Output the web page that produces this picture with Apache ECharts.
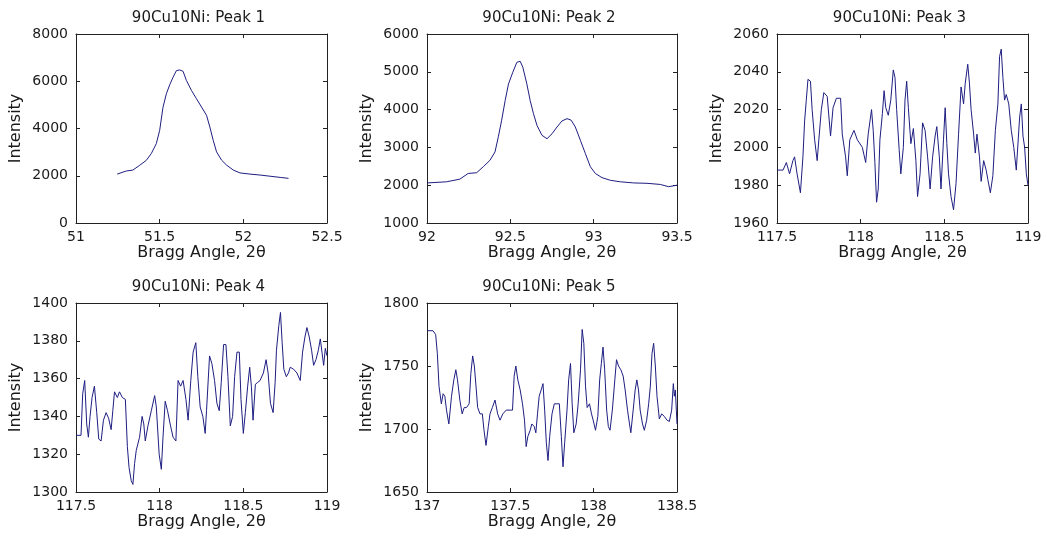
<!DOCTYPE html>
<html>
<head>
<meta charset="utf-8">
<script src="https://cdn.jsdelivr.net/npm/echarts@6/dist/echarts.min.js"></script>
<style>
html,body{margin:0;padding:0;background:#fff;}
#chart{width:1047px;height:543px;}
</style>
</head>
<body>
<div id="chart"></div>
<script>
// ---- Data ----
const titles = ['90Cu10Ni: Peak 1','90Cu10Ni: Peak 2','90Cu10Ni: Peak 3','90Cu10Ni: Peak 4','90Cu10Ni: Peak 5'];
const xLabel = 'Bragg Angle, 2\u03b8';
const yLabel = 'Intensity';

const peak1X = [51.246,51.30,51.34,51.38,51.42,51.45,51.48,51.50,51.52,51.54,51.56,51.58,51.60,51.62,51.64,51.66,51.69,51.72,51.75,51.78,51.80,51.82,51.84,51.87,51.90,51.94,51.98,52.04,52.10,52.16,52.22,52.27];
const peak1Y = [2070,2200,2240,2440,2650,2940,3360,3920,4900,5470,5850,6170,6450,6480,6420,6030,5610,5260,4910,4560,4060,3500,3010,2660,2450,2240,2120,2070,2030,1980,1930,1890];

const peak2X = [92.0,92.117,92.197,92.247,92.298,92.338,92.378,92.408,92.428,92.448,92.469,92.489,92.515,92.539,92.559,92.575,92.599,92.619,92.639,92.66,92.69,92.72,92.75,92.78,92.81,92.84,92.865,92.89,92.92,92.95,92.98,93.01,93.05,93.10,93.16,93.24,93.32,93.40,93.45,93.50];
const peak2Y = [2060,2090,2160,2310,2330,2490,2660,2880,3280,3720,4240,4680,4990,5250,5280,5120,4680,4240,3890,3580,3320,3230,3360,3540,3700,3760,3720,3540,3190,2840,2490,2310,2200,2130,2090,2060,2050,2020,1960,2000];

const peak3X = [117.5,117.536,117.556,117.575,117.595,117.605,117.62,117.64,117.655,117.665,117.675,117.685,117.70,117.71,117.725,117.74,117.75,117.765,117.78,117.80,117.82,117.835,117.855,117.88,117.89,117.91,117.92,117.935,117.96,117.98,118.01,118.03,118.045,118.065,118.075,118.085,118.095,118.105,118.115,118.13,118.14,118.15,118.165,118.18,118.195,118.205,118.215,118.23,118.24,118.255,118.265,118.275,118.285,118.30,118.315,118.33,118.34,118.355,118.37,118.385,118.40,118.415,118.43,118.445,118.455,118.47,118.48,118.495,118.505,118.515,118.525,118.54,118.555,118.57,118.585,118.60,118.615,118.625,118.64,118.65,118.66,118.675,118.685,118.695,118.71,118.72,118.735,118.75,118.76,118.775,118.79,118.805,118.82,118.83,118.84,118.85,118.86,118.87,118.885,118.90,118.915,118.93,118.94,118.95,118.96,118.97,118.98,118.99,119.0];
const peak3Y = [1988,1988,1992,1986,1993,1995,1986,1976,1995,2014,2025,2036,2035,2020,2004,1993,2004,2020,2029,2027,2006,2021,2026,2026,2007,1995,1985,2004,2009,2004,2000,1992,2007,2020,2009,1992,1971,1978,2004,2018,2030,2021,2017,2025,2041,2037,2020,1999,1986,2000,2025,2035,2021,2002,2010,1993,1974,1986,2013,2009,1995,1978,1995,2006,2011,1995,1978,2004,2021,2002,1986,1974,1967,1981,2007,2032,2023,2034,2044,2034,2020,2007,1997,2007,1995,1982,1993,1988,1983,1976,1985,2009,2023,2048,2052,2037,2025,2028,2023,2009,2000,1988,1987,2016,2023,2006,2000,1986,1980];

const peak4X = [117.5,117.53,117.54,117.552,117.564,117.574,117.584,117.596,117.61,117.624,117.636,117.65,117.664,117.68,117.695,117.71,117.72,117.73,117.747,117.76,117.777,117.795,117.807,117.817,117.83,117.84,117.85,117.86,117.88,117.895,117.905,117.914,117.93,117.95,117.97,117.98,117.997,118.01,118.02,118.033,118.047,118.065,118.08,118.097,118.11,118.125,118.14,118.157,118.17,118.186,118.20,118.216,118.228,118.242,118.258,118.272,118.28,118.298,118.312,118.328,118.342,118.356,118.368,118.382,118.396,118.408,118.422,118.436,118.448,118.462,118.476,118.486,118.50,118.512,118.526,118.538,118.548,118.558,118.572,118.586,118.60,118.62,118.636,118.648,118.662,118.678,118.69,118.698,118.712,118.722,118.732,118.742,118.757,118.77,118.78,118.80,118.82,118.84,118.854,118.868,118.88,118.894,118.908,118.92,118.934,118.948,118.96,118.97,118.98,118.99,119.0];
const peak4Y = [1330,1330,1352,1359,1336,1329,1340,1350,1356,1342,1328,1327,1338,1342,1339,1333,1343,1353,1350,1353,1350,1349,1324,1313,1306,1304,1315,1322,1329,1340,1336,1327,1335,1343,1351,1345,1320,1312,1329,1348,1343,1335,1329,1327,1359,1356,1359,1349,1338,1359,1374,1379,1361,1345,1340,1331,1343,1372,1368,1359,1347,1343,1358,1378,1378,1361,1335,1340,1361,1374,1374,1349,1331,1342,1356,1366,1356,1338,1357,1358,1359,1363,1370,1363,1347,1342,1358,1375,1388,1395,1379,1365,1361,1363,1366,1365,1363,1359,1374,1382,1387,1382,1375,1367,1370,1375,1381,1374,1367,1376,1372];

const peak5X = [137.0,137.036,137.052,137.062,137.072,137.086,137.097,137.107,137.117,137.131,137.147,137.161,137.173,137.183,137.197,137.211,137.223,137.237,137.253,137.263,137.274,137.284,137.294,137.304,137.318,137.332,137.342,137.354,137.368,137.378,137.392,137.408,137.424,137.438,137.455,137.475,137.499,137.513,137.523,137.533,137.545,137.559,137.573,137.585,137.595,137.605,137.619,137.629,137.643,137.653,137.663,137.673,137.685,137.696,137.706,137.716,137.726,137.736,137.75,137.764,137.78,137.794,137.806,137.816,137.826,137.84,137.85,137.861,137.871,137.881,137.895,137.907,137.921,137.931,137.941,137.951,137.961,137.975,137.987,137.997,138.011,138.025,138.036,138.046,138.056,138.066,138.078,138.088,138.098,138.112,138.127,138.137,138.149,138.163,138.177,138.189,138.203,138.215,138.223,138.237,138.249,138.259,138.269,138.279,138.293,138.304,138.318,138.33,138.34,138.35,138.36,138.37,138.38,138.394,138.408,138.424,138.44,138.454,138.468,138.478,138.484,138.49,138.496,138.5];
const peak5Y = [1778,1778,1775,1760,1734,1720,1728,1726,1715,1704,1726,1739,1747,1739,1723,1712,1717,1717,1720,1744,1758,1750,1734,1717,1712,1712,1699,1687,1702,1712,1717,1723,1712,1707,1712,1715,1715,1715,1742,1750,1739,1731,1720,1707,1686,1694,1699,1704,1702,1697,1712,1726,1731,1736,1715,1689,1675,1694,1712,1720,1720,1720,1694,1670,1689,1715,1739,1752,1720,1697,1704,1720,1747,1779,1768,1734,1717,1720,1712,1707,1699,1710,1739,1752,1765,1747,1715,1702,1699,1715,1739,1755,1750,1747,1742,1731,1715,1704,1697,1715,1731,1739,1731,1715,1704,1699,1707,1720,1734,1760,1768,1750,1726,1708,1712,1710,1707,1706,1715,1736,1726,1731,1715,1704];

const seriesX = [peak1X, peak2X, peak3X, peak4X, peak5X];
const seriesY = [peak1Y, peak2Y, peak3Y, peak4Y, peak5Y];
const xRanges = [[51,52.5,0.5],[92,93.5,0.5],[117.5,119,0.5],[117.5,119,0.5],[137,138.5,0.5]];
const yRanges = [[0,8000,2000],[1000,6000,1000],[1960,2060,20],[1300,1400,20],[1650,1800,50]];

// ---- Layout ----
const grids = [
  {left:76, top:34, width:251, height:189},
  {left:427, top:34, width:250, height:189},
  {left:777, top:34, width:251, height:189},
  {left:76, top:303, width:251, height:189},
  {left:427, top:303, width:250, height:189}
];
const FONT = 'DejaVu Sans';
const TXT = '#1a1a1a';
const LINE = '#1e1e82';
const fmt = v => String(Math.round(v * 1000) / 1000);

const xAxes = [], yAxes = [], series = [], graphics = [];
grids.forEach((g, i) => {
  const xr = xRanges[i], yr = yRanges[i];
  const lineStyle = {color:'#222', width:1};
  xAxes.push({
    type:'value', gridIndex:i, position:'bottom', min:xr[0], max:xr[1], interval:xr[2],
    axisLine:{show:true, onZero:false, lineStyle},
    axisTick:{show:true, inside:true, length:4, lineStyle},
    axisLabel:{show:true, margin:7, color:TXT, fontFamily:FONT, fontSize:14, showMinLabel:true, showMaxLabel:true, formatter:fmt},
    splitLine:{show:false},
    name:xLabel, nameLocation:'middle', nameGap:22,
    nameTextStyle:{color:TXT, fontFamily:FONT, fontSize:16}
  });
  xAxes.push({
    type:'value', gridIndex:i, position:'top', min:xr[0], max:xr[1], interval:xr[2],
    axisLine:{show:true, onZero:false, lineStyle},
    axisTick:{show:true, inside:true, length:4, lineStyle},
    axisLabel:{show:false}, splitLine:{show:false}
  });
  yAxes.push({
    type:'value', gridIndex:i, position:'left', min:yr[0], max:yr[1], interval:yr[2],
    axisLine:{show:true, onZero:false, lineStyle},
    axisTick:{show:true, inside:true, length:4, lineStyle},
    axisLabel:{show:true, margin:8, color:TXT, fontFamily:FONT, fontSize:14, showMinLabel:true, showMaxLabel:true, formatter:fmt},
    splitLine:{show:false},
    name:yLabel, nameLocation:'middle', nameGap:52,
    nameTextStyle:{color:TXT, fontFamily:FONT, fontSize:16}
  });
  yAxes.push({
    type:'value', gridIndex:i, position:'right', min:yr[0], max:yr[1], interval:yr[2],
    axisLine:{show:true, onZero:false, lineStyle},
    axisTick:{show:true, inside:true, length:4, lineStyle},
    axisLabel:{show:false}, splitLine:{show:false}
  });
  const data = seriesX[i].map((x, k) => [x, seriesY[i][k]]);
  series.push({
    type:'line', xAxisIndex:2*i, yAxisIndex:2*i, data,
    showSymbol:false, symbol:'none', smooth:false, animation:false,
    lineStyle:{color:LINE, width:1}
  });
  graphics.push({
    type:'text',
    x: g.left + g.width/2 - 3, y: g.top - 16,
    style:{text:titles[i], fill:TXT, font:'15px "DejaVu Sans"', textAlign:'center', textVerticalAlign:'middle'}
  });
});

const chart = echarts.init(document.getElementById('chart'), null, {renderer:'canvas'});
chart.setOption({
  backgroundColor:'#ffffff',
  animation:false,
  grid: grids.map(g => Object.assign({containLabel:false}, g)),
  xAxis: xAxes,
  yAxis: yAxes,
  series: series,
  graphic: graphics
});
</script>
</body>
</html>
